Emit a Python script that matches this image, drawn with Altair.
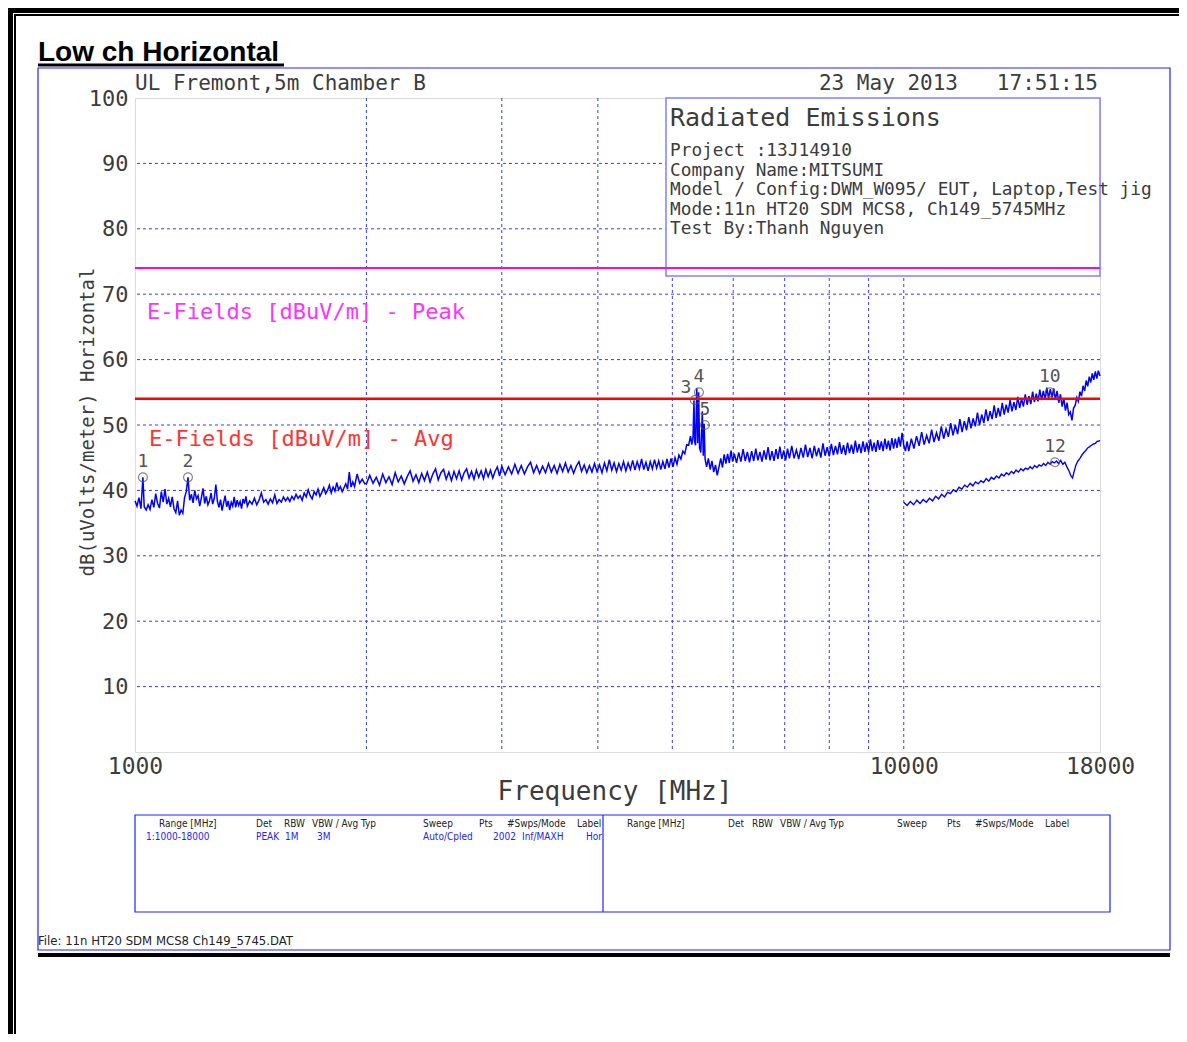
import altair as alt
import pandas as pd

# ---------------- data ----------------
peak_low = [
    (1000, 38.4), (1006, 37.6), (1012, 38.9), (1018, 37.2), (1024, 42.0), (1028, 37.5),
    (1034, 37.0), (1040, 37.8), (1046, 37.1), (1052, 38.6), (1058, 37.4), (1064, 39.5),
    (1070, 38.0), (1076, 37.3), (1082, 39.8), (1088, 38.2), (1094, 40.2), (1100, 37.9),
    (1106, 38.8), (1112, 37.5), (1118, 39.0), (1124, 37.2), (1130, 36.6), (1136, 38.4),
    (1142, 36.2), (1148, 37.0), (1154, 36.5), (1160, 38.9), (1166, 39.8), (1172, 42.0),
    (1178, 38.5), (1184, 39.4), (1190, 38.1), (1196, 40.0), (1202, 38.7), (1208, 39.2),
    (1214, 37.6), (1220, 38.9), (1226, 40.3), (1232, 38.0), (1238, 39.1), (1244, 37.8),
    (1250, 38.4), (1256, 39.6), (1262, 37.9), (1268, 38.8), (1274, 40.9), (1280, 38.3),
    (1286, 37.4), (1292, 38.6), (1298, 36.9), (1304, 38.1), (1310, 39.2), (1316, 37.5),
    (1322, 38.4), (1328, 37.0), (1334, 38.2), (1340, 37.6), (1346, 39.0), (1352, 37.4),
    (1358, 38.5), (1364, 37.7), (1370, 38.3), (1376, 37.2), (1382, 38.7), (1388, 38.0),
    (1394, 39.1), (1400, 37.6), (1410, 38.4), (1420, 37.9), (1430, 38.8), (1440, 37.8),
    (1450, 38.5), (1460, 39.6), (1470, 38.2), (1480, 38.6), (1490, 37.9), (1500, 38.7),
    (1510, 38.1), (1520, 39.3), (1530, 38.0), (1540, 38.6), (1550, 38.2), (1560, 39.0),
    (1570, 38.4), (1580, 38.9), (1590, 38.3), (1600, 39.1), (1610, 38.6), (1620, 39.4),
    (1630, 38.8), (1640, 39.2), (1650, 38.5), (1660, 39.6), (1670, 39.0), (1680, 40.1),
    (1690, 39.2), (1700, 38.7), (1710, 39.8), (1720, 39.3), (1730, 40.2), (1740, 39.1),
    (1750, 39.7), (1760, 40.4), (1770, 39.5), (1780, 40.0), (1790, 40.8), (1800, 39.6),
    (1810, 40.5), (1820, 39.9), (1830, 41.2), (1840, 40.1), (1850, 40.6), (1860, 39.8),
    (1870, 40.4), (1880, 41.0), (1890, 40.2), (1900, 42.8), (1910, 40.5), (1920, 41.3),
    (1930, 40.6), (1945, 42.5), (1960, 41.1), (1975, 41.7), (1990, 41.0),
]
peak_mid = [
    (2000, 41.0), (2020, 42.3), (2040, 41.1), (2060, 42.0), (2080, 40.8), (2100, 42.5),
    (2120, 41.2), (2140, 42.1), (2160, 40.9), (2180, 42.7), (2200, 41.3), (2220, 42.2),
    (2240, 41.0), (2260, 42.1), (2280, 43.0), (2300, 41.4), (2320, 42.4), (2340, 41.2),
    (2360, 42.6), (2380, 41.5), (2400, 42.8), (2420, 41.3), (2440, 42.5), (2460, 43.3),
    (2480, 41.6), (2500, 42.7), (2520, 43.2), (2540, 41.7), (2560, 42.8), (2580, 41.5),
    (2600, 42.9), (2620, 41.8), (2640, 43.0), (2660, 41.6), (2680, 42.7), (2700, 43.3),
    (2720, 41.9), (2740, 42.9), (2760, 41.7), (2780, 43.1), (2800, 42.0), (2820, 43.0),
    (2840, 41.8), (2860, 43.2), (2880, 42.1), (2900, 43.1), (2920, 41.9), (2940, 42.9),
    (2960, 43.6), (2980, 42.2), (3000, 43.7), (3030, 42.4), (3060, 43.6), (3090, 42.5),
    (3120, 44.0), (3150, 42.6), (3180, 43.8), (3210, 42.5), (3240, 43.6), (3270, 44.3),
    (3300, 42.7), (3330, 43.8), (3360, 42.6), (3390, 43.7), (3420, 42.7), (3450, 44.1),
    (3480, 42.8), (3510, 43.8), (3540, 42.6), (3570, 44.0), (3600, 42.9), (3630, 44.2),
    (3660, 42.8), (3690, 43.8), (3720, 42.6), (3750, 43.7), (3780, 44.4), (3810, 42.9),
    (3840, 43.9), (3870, 42.7), (3900, 43.8), (3930, 42.8), (3960, 44.1), (3990, 42.9),
    (4020, 43.9), (4050, 42.7), (4080, 44.2), (4110, 43.0), (4140, 44.7), (4170, 43.1),
    (4200, 44.2), (4230, 42.9), (4260, 44.1), (4290, 43.1), (4320, 44.4), (4350, 43.0),
    (4380, 44.2), (4410, 43.2), (4440, 44.6), (4470, 43.1), (4500, 44.4), (4530, 43.3),
    (4560, 44.8), (4590, 43.2), (4620, 44.3), (4650, 43.0), (4680, 44.4), (4710, 43.3),
    (4740, 44.7), (4770, 43.4), (4800, 44.5), (4830, 43.2), (4860, 44.4), (4890, 43.3),
    (4920, 44.8), (4950, 43.5), (4980, 44.9), (5010, 43.6), (5040, 45.0), (5070, 44.0),
    (5100, 45.4), (5130, 44.8), (5160, 46.0), (5190, 45.6), (5220, 47.0), (5250, 46.9),
    (5280, 48.3), (5300, 47.0),
]
peak_band = [
    (5320, 48.2), (5335, 53.8), (5345, 47.5), (5360, 46.9), (5380, 55.6), (5395, 47.2),
    (5410, 55.0), (5425, 46.5), (5445, 45.8), (5470, 52.1), (5485, 45.3), (5500, 50.2),
    (5515, 44.8), (5540, 43.6), (5570, 44.9), (5600, 43.2), (5630, 44.5), (5660, 42.8),
    (5690, 43.9), (5720, 42.3), (5750, 43.6), (5780, 44.9), (5810, 43.5), (5840, 45.5),
    (5870, 44.1), (5900, 45.6), (5930, 44.2), (5960, 46.1), (5990, 44.4), (6020, 45.6),
    (6060, 44.2), (6100, 45.8), (6140, 44.4), (6180, 46.3), (6220, 44.5), (6260, 45.9),
    (6300, 44.3), (6340, 46.0), (6380, 44.5), (6420, 46.4), (6460, 44.6), (6500, 45.9),
    (6540, 44.4), (6580, 46.1), (6620, 44.7), (6660, 46.6), (6700, 44.6), (6740, 46.0),
    (6780, 44.5), (6820, 46.3), (6860, 44.8), (6900, 46.7), (6940, 44.8), (6980, 46.1),
    (7020, 44.6), (7060, 46.4), (7100, 44.9), (7150, 46.8), (7200, 44.9), (7250, 46.2),
    (7300, 44.8), (7350, 46.5), (7400, 45.0), (7450, 47.0), (7500, 45.1), (7550, 46.5),
    (7600, 44.9), (7650, 46.8), (7700, 45.2), (7750, 46.5), (7800, 45.0), (7850, 47.2),
    (7900, 45.3), (7950, 46.6), (8000, 45.2), (8050, 47.1), (8100, 45.4), (8150, 46.8),
    (8200, 45.5), (8250, 47.4), (8300, 45.6), (8350, 46.9), (8400, 45.4), (8450, 47.3),
    (8500, 45.7), (8550, 47.0), (8600, 45.6), (8650, 47.6), (8700, 45.8), (8750, 47.1),
    (8800, 45.7), (8850, 47.5), (8900, 45.9), (8950, 47.3), (9000, 45.8), (9050, 47.8),
    (9100, 46.0), (9150, 47.3), (9200, 45.9), (9250, 47.7), (9300, 46.2), (9350, 47.5),
    (9400, 46.0), (9450, 47.9), (9500, 46.3), (9550, 47.6), (9600, 46.1), (9650, 48.0),
    (9700, 46.4), (9750, 47.9), (9800, 46.5), (9850, 48.2), (9900, 46.7), (9950, 48.8),
    (10000, 46.9), (10050, 46.0), (10100, 47.5),
]
peak_high = [
    (10150, 46.0), (10230, 47.9), (10310, 46.4), (10390, 48.3), (10470, 46.8), (10550, 48.9),
    (10630, 47.0), (10710, 48.4), (10790, 47.2), (10870, 49.3), (10950, 47.4), (11030, 48.8),
    (11110, 47.6), (11190, 49.8), (11270, 47.9), (11350, 49.4), (11430, 48.2), (11510, 50.3),
    (11590, 48.4), (11670, 50.0), (11750, 48.6), (11830, 50.9), (11910, 48.9), (11990, 50.6),
    (12070, 49.2), (12150, 51.2), (12230, 49.5), (12310, 51.0), (12390, 49.8), (12470, 51.9),
    (12550, 50.0), (12630, 51.6), (12710, 50.3), (12790, 52.4), (12870, 50.6), (12950, 52.1),
    (13030, 50.9), (13110, 53.0), (13190, 51.1), (13270, 52.6), (13350, 51.3), (13430, 53.4),
    (13510, 51.6), (13590, 53.1), (13670, 51.9), (13750, 53.8), (13830, 52.1), (13910, 53.5),
    (13990, 52.3), (14070, 54.3), (14150, 52.6), (14230, 54.0), (14310, 52.8), (14390, 54.7),
    (14470, 53.1), (14550, 54.4), (14630, 53.2), (14710, 55.1), (14790, 53.5), (14870, 54.8),
    (14950, 53.6), (15030, 55.4), (15110, 53.8), (15190, 55.2), (15270, 54.0), (15350, 55.7),
    (15430, 54.1), (15510, 55.5), (15590, 54.2), (15670, 55.6), (15750, 53.9), (15830, 55.2),
    (15910, 53.4), (15990, 54.7), (16070, 52.8), (16150, 54.1), (16230, 52.2), (16310, 53.4),
    (16390, 51.6), (16470, 52.0), (16550, 50.7), (16630, 52.6), (16710, 53.0), (16790, 54.2),
    (16870, 53.6), (16950, 55.1), (17030, 54.4), (17110, 56.0), (17190, 55.2), (17270, 56.8),
    (17350, 55.9), (17430, 57.4), (17510, 56.5), (17590, 57.9), (17670, 56.9), (17750, 58.2),
    (17830, 57.1), (17910, 58.3), (18000, 57.5),
]
avg_trace = [
    (10000, 38.2), (10100, 37.7), (10200, 38.3), (10300, 37.8), (10400, 38.5), (10500, 38.0),
    (10600, 38.6), (10700, 38.2), (10800, 38.8), (10900, 38.4), (11000, 39.1), (11100, 38.7),
    (11200, 39.4), (11300, 39.0), (11400, 39.7), (11500, 39.5), (11600, 40.1), (11700, 39.8),
    (11800, 40.5), (11900, 40.2), (12000, 40.8), (12100, 40.5), (12200, 41.1), (12300, 40.7),
    (12400, 41.3), (12500, 41.0), (12600, 41.5), (12700, 41.2), (12800, 41.8), (12900, 41.4),
    (13000, 42.0), (13100, 41.7), (13200, 42.2), (13300, 41.9), (13400, 42.5), (13500, 42.2),
    (13600, 42.7), (13700, 42.4), (13800, 42.9), (13900, 42.6), (14000, 43.1), (14100, 42.8),
    (14200, 43.3), (14300, 43.0), (14400, 43.4), (14500, 43.2), (14600, 43.6), (14700, 43.3),
    (14800, 43.8), (14900, 43.5), (15000, 43.9), (15100, 43.7), (15200, 44.1), (15300, 43.8),
    (15400, 44.3), (15500, 44.0), (15600, 44.4), (15700, 44.2), (15800, 44.5), (15900, 44.1),
    (16000, 44.6), (16100, 44.0), (16200, 44.3), (16300, 43.6), (16400, 43.0), (16500, 42.2),
    (16580, 41.9), (16650, 42.8), (16750, 43.9), (16850, 44.5), (16950, 44.9), (17050, 45.4),
    (17150, 45.8), (17250, 46.1), (17350, 46.5), (17450, 46.7), (17550, 46.9), (17650, 47.1),
    (17750, 47.2), (17850, 47.5), (18000, 47.6),
]

marker_freq = [1024, 1172, 5349, 5415, 5512, 15490, 15730]
marker_db = [42.0, 42.0, 53.8, 55.0, 50.0, 55.0, 44.3]
marker_label = ["1", "2", "3", "4", "5", "10", "12"]

grid_db = [10, 20, 30, 40, 50, 60, 70, 80, 90]
grid_freq = [2000, 3000, 4000, 5000, 6000, 7000, 8000, 9000, 10000]
y_tick_values = [10, 20, 30, 40, 50, 60, 70, 80, 90, 100]
x_tick_values = [1000, 10000, 18000]
limit_peak = [74]
limit_avg = [54]

info_lines = [
    "Project :13J14910",
    "Company Name:MITSUMI",
    "Model / Config:DWM_W095/ EUT, Laptop,Test jig",
    "Mode:11n HT20 SDM MCS8, Ch149_5745MHz",
    "Test By:Thanh Nguyen",
]
table_headers = ["Range [MHz]", "Det", "RBW", "VBW / Avg Typ", "Sweep", "Pts", "#Swps/Mode", "Label"]
table_values = ["1:1000-18000", "PEAK", "1M", "3M", "Auto/Cpled", "2002", "Inf/MAXH", "Hor"]

# ---------------- styling ----------------
MONO = "DejaVu Sans Mono"
NARROW = "DejaVu Sans Condensed, Liberation Sans Narrow, Arial Narrow, sans-serif"
TXT = "#3c3c3c"
BLUE = "#0000ff"
FRAME_BLUE = "#2222ff"
GRID_BLUE = "#3a3aff"

W, H = 965, 654

xscale = alt.Scale(type="log", domain=[1000, 18000], nice=False)
yscale = alt.Scale(domain=[0, 100], nice=False, zero=False)
xaxis = alt.Axis(values=x_tick_values, format="d", grid=False, ticks=False, domain=False,
                 labelFlush=False, labelOverlap=False, labelPadding=3, labelFont=MONO,
                 labelFontSize=23, labelColor=TXT, title="")
yaxis = alt.Axis(values=y_tick_values, format="d", grid=False, ticks=False, domain=False,
                 labelPadding=7, labelFont=MONO, labelFontSize=22, labelColor=TXT, title="",
                 labelOverlap=False)
X = alt.X("f:Q", scale=xscale, axis=xaxis)
Y = alt.Y("db:Q", scale=yscale, axis=yaxis)

one = pd.DataFrame({"k": [0]})


def text(s, x, y, size, color=TXT, font=MONO, align="left", angle=0, weight="normal"):
    return alt.Chart(pd.DataFrame({"t": [s]})).mark_text(
        align=align, baseline="middle", font=font, fontSize=size, color=color,
        angle=angle, fontWeight=weight
    ).encode(x=alt.value(x), y=alt.value(y), text="t:N")


def rect(x1, x2, y1, y2, stroke, sw, fill="transparent"):
    return alt.Chart(one).mark_rect(fill=fill, stroke=stroke, strokeWidth=sw).encode(
        x=alt.value(x1), x2=alt.value(x2), y=alt.value(y1), y2=alt.value(y2))


def line(x1, x2, y1, y2, color, sw):
    return alt.Chart(one).mark_rule(color=color, strokeWidth=sw).encode(
        x=alt.value(x1), x2=alt.value(x2), y=alt.value(y1), y2=alt.value(y2))


def trace_df(*segs):
    rows = [p for s in segs for p in s]
    return pd.DataFrame({"f": [r[0] for r in rows], "db": [r[1] for r in rows]})


layers = []

# grid
layers.append(alt.Chart(pd.DataFrame({"db": grid_db})).mark_rule(
    color=GRID_BLUE, strokeWidth=1, strokeDash=[3, 3]).encode(y=Y))
layers.append(alt.Chart(pd.DataFrame({"f": grid_freq})).mark_rule(
    color=GRID_BLUE, strokeWidth=1, strokeDash=[3, 3]).encode(x=X))

# info box (white, covers grid)
layers.append(rect(531, 965, 0, 178, "#8080ff", 1.5, fill="white"))

# traces
layers.append(alt.Chart(trace_df(peak_low, peak_mid, peak_band, peak_high)).mark_line(
    color=BLUE, strokeWidth=1.5).encode(x=X, y=Y))
layers.append(alt.Chart(trace_df(avg_trace)).mark_line(
    color=BLUE, strokeWidth=1.4).encode(x=X, y=Y))

# limit lines
layers.append(alt.Chart(pd.DataFrame({"db": limit_peak})).mark_rule(
    color="#ff00ff", strokeWidth=2).encode(y=Y))
layers.append(alt.Chart(pd.DataFrame({"db": limit_avg})).mark_rule(
    color="#ff0000", strokeWidth=2.5).encode(y=Y))

# markers
mdf = pd.DataFrame({"f": marker_freq, "db": marker_db, "lbl": marker_label})
layers.append(alt.Chart(mdf).mark_point(shape="circle", size=80, filled=False,
                                        color="#555555", strokeWidth=1.2).encode(x=X, y=Y))
main_lbl = mdf[mdf["lbl"] != "3"]
side_lbl = mdf[mdf["lbl"] == "3"]
layers.append(alt.Chart(main_lbl).mark_text(font=MONO, fontSize=18, color="#555555",
                                            baseline="middle", dy=-15).encode(x=X, y=Y, text="lbl:N"))
layers.append(alt.Chart(side_lbl).mark_text(font=MONO, fontSize=18, color="#555555",
                                            baseline="middle", dx=-9, dy=-12).encode(x=X, y=Y, text="lbl:N"))

# limit labels
layers.append(text("E-Fields [dBuV/m] - Peak", 12, 214, 22, color="#ff33ff"))
layers.append(text("E-Fields [dBuV/m] - Avg", 14, 341, 22, color="#ff3333"))

# header
layers.append(text("UL Fremont,5m Chamber B", 0, -14, 21))
layers.append(text("23 May 2013", 823, -14, 21, align="right"))
layers.append(text("17:51:15", 963, -14, 21, align="right"))

# info box text
layers.append(text("Radiated Emissions", 535, 20, 25))
for i, s in enumerate(info_lines):
    layers.append(text(s, 535, 53 + i * 19.6, 17.8))

# axis titles
layers.append(text("Frequency [MHz]", 480, 694, 26, align="center"))
layers.append(text("dB(uVolts/meter) Horizontal", -47, 324, 19, align="center", angle=270))

# bottom table
layers.append(rect(0, 975, 717, 814, FRAME_BLUE, 1.2))
layers.append(line(468, 468, 717, 814, FRAME_BLUE, 1.2))
left_hx = [24, 121, 149, 177, 288, 344, 372, 442]
left_vx = [11, 121, 150, 182, 288, 358, 387, 451]
right_hx = [492, 593, 617, 645, 762, 812, 840, 910]
for s, x in zip(table_headers, left_hx):
    layers.append(text(s, x, 726, 10, font=NARROW, color="#222222"))
for s, x in zip(table_values, left_vx):
    layers.append(text(s, x, 739, 10, font=NARROW, color="#2222ff"))
for s, x in zip(table_headers, right_hx):
    layers.append(text(s, x, 726, 10, font=NARROW, color="#222222"))

# file name
layers.append(text("File: 11n HT20 SDM MCS8 Ch149_5745.DAT", -97, 843, 13, font=NARROW, color="#222222"))

# page frame
layers.append(rect(-97, 1035, -30, 852, FRAME_BLUE, 1.2))
layers.append(line(-97, 1035, 857, 857, "#000000", 4))
layers.append(line(-130, 1060, -88, -88, "#000000", 6))
layers.append(line(-121, 1060, -83, -83, "#000000", 2))
layers.append(line(-125, -125, -91, 950, "#000000", 6))
layers.append(line(-120, -120, -84, 950, "#000000", 2))

# title
layers.append(alt.Chart(pd.DataFrame({"t": ["Low ch Horizontal"]})).mark_text(
    align="left", baseline="alphabetic", font="Liberation Sans", fontSize=28,
    fontWeight="bold", color="#000000").encode(x=alt.value(-97), y=alt.value(-37), text="t:N"))
layers.append(line(-97, 149, -33, -33, "#000000", 3))

chart = alt.layer(*layers).properties(
    width=W, height=H,
    autosize=alt.AutoSizeParams(type="none"),
    padding={"left": 127, "top": 90, "right": 79, "bottom": 282},
).configure_view(stroke=FRAME_BLUE, strokeWidth=1.2).configure(background="white")

chart.save("out.html", embed_options={"renderer": "svg", "actions": False})
